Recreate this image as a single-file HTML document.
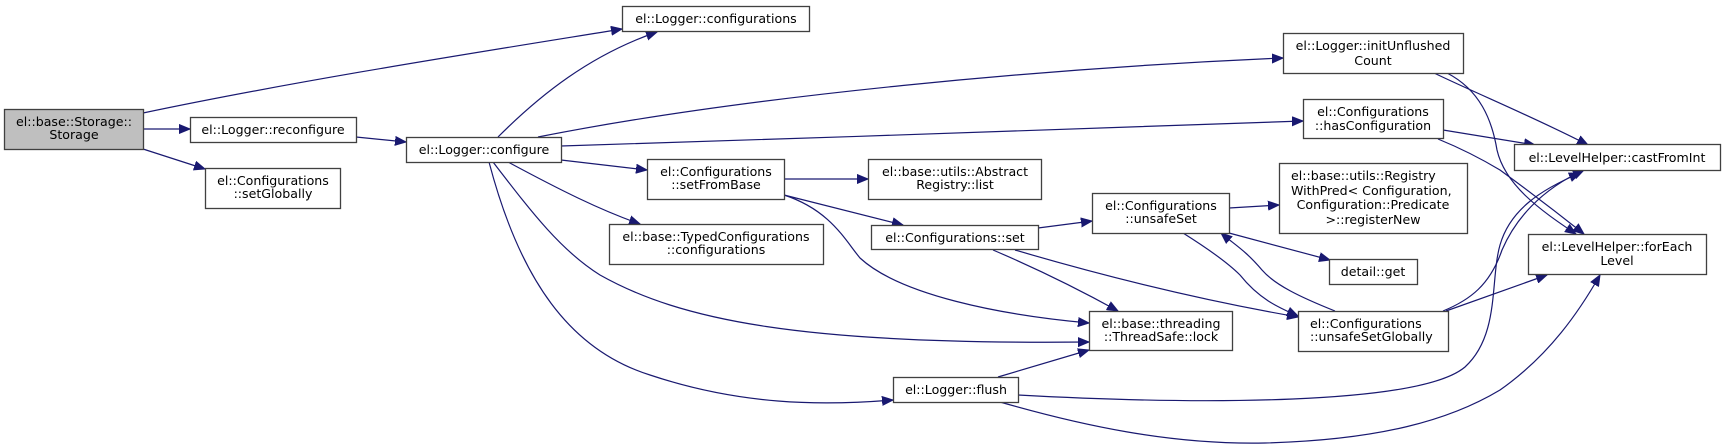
<!DOCTYPE html>
<html><head><meta charset="utf-8"><style>
html,body{margin:0;padding:0;background:#fff;}
svg{display:block;}
text{font-family:"DejaVu Sans","Liberation Sans",sans-serif;font-size:12.6px;fill:#000;}
.n{fill:#fff;stroke:#404040;stroke-width:1.3;}
.e{fill:none;stroke:#191970;stroke-width:1.2;}
</style></head><body>
<svg width="1725" height="448" viewBox="0 0 1725 448" xmlns="http://www.w3.org/2000/svg">
<defs>
<marker id="a" markerUnits="userSpaceOnUse" markerWidth="12" markerHeight="10" refX="11" refY="5" orient="auto">
<path d="M0,0.5 L11,5 L0,9.5 Z" fill="#191970" stroke="#191970"/>
</marker>
</defs>
<g class="edges">
<path class="e" marker-end="url(#a)" d="M143,113 C300,80 480,52 622,29"/>
<path class="e" marker-end="url(#a)" d="M143,129 L190,129"/>
<path class="e" marker-end="url(#a)" d="M143,149 L205,169"/>
<path class="e" marker-end="url(#a)" d="M356,137 L406,142"/>
<path class="e" marker-end="url(#a)" d="M498,137 C540,95 590,55 657,32"/>
<path class="e" marker-end="url(#a)" d="M538,137 C750,95 1050,68 1283,58"/>
<path class="e" marker-end="url(#a)" d="M561,146 C800,140 1100,126 1303,121"/>
<path class="e" marker-end="url(#a)" d="M561,160 L647,170"/>
<path class="e" marker-end="url(#a)" d="M508,162 C560,190 600,210 640,224"/>
<path class="e" marker-end="url(#a)" d="M493,162 C530,210 560,250 600,275 C680,320 800,345 1089,342"/>
<path class="e" marker-end="url(#a)" d="M489,162 C520,280 570,350 650,375 C740,405 820,406 893,400"/>
<path class="e" marker-end="url(#a)" d="M784,179 L868,179"/>
<path class="e" marker-end="url(#a)" d="M784,195 L903,225"/>
<path class="e" marker-end="url(#a)" d="M784,195 C830,210 845,240 860,258 C900,295 1000,315 1089,323"/>
<path class="e" marker-end="url(#a)" d="M1038,228 L1092,221"/>
<path class="e" marker-end="url(#a)" d="M993,250 C1040,270 1080,290 1118,311"/>
<path class="e" marker-end="url(#a)" d="M1015,250 C1100,275 1200,300 1298,317"/>
<path class="e" marker-end="url(#a)" d="M1229,208 L1279,205"/>
<path class="e" marker-end="url(#a)" d="M1229,233 L1330,260"/>
<path class="e" marker-end="url(#a)" d="M1183,233 C1210,250 1230,265 1240,275 C1260,300 1280,308 1298,316"/>
<path class="e" marker-end="url(#a)" d="M1335,311 C1300,297 1275,285 1262,270 C1245,250 1235,245 1221,233"/>
<path class="e" marker-end="url(#a)" d="M1443,311 C1470,300 1490,285 1502,250 C1515,220 1540,190 1584,170"/>
<path class="e" marker-end="url(#a)" d="M1446,311 L1547,275"/>
<path class="e" marker-end="url(#a)" d="M998,377 L1089,350"/>
<path class="e" marker-end="url(#a)" d="M1018,395 C1200,405 1420,405 1465,367 C1500,335 1490,280 1500,245 C1510,210 1540,190 1580,173"/>
<path class="e" marker-end="url(#a)" d="M1000,402 C1080,425 1170,445 1265,443 C1380,440 1450,420 1500,390 C1550,355 1580,310 1600,275"/>
<path class="e" marker-end="url(#a)" d="M1434,73 C1480,95 1540,120 1588,145"/>
<path class="e" marker-end="url(#a)" d="M1447,73 C1480,90 1492,120 1497,150 C1505,185 1540,210 1576,234"/>
<path class="e" marker-end="url(#a)" d="M1443,130 L1535,145"/>
<path class="e" marker-end="url(#a)" d="M1438,139 C1460,148 1480,158 1500,170 C1530,192 1560,215 1584,234"/>
</g>
<g class="nodes">
<rect x="4.5" y="109.5" width="139" height="40" fill="#bfbfbf" stroke="#404040" stroke-width="1.3"/>
<text x="74" y="126" text-anchor="middle">el::base::Storage::</text>
<text x="74" y="139" text-anchor="middle">Storage</text>

<rect class="n" x="190.5" y="117.5" width="166" height="25"/>
<text x="273" y="134" text-anchor="middle">el::Logger::reconfigure</text>

<rect class="n" x="205.5" y="168.5" width="135" height="40"/>
<text x="273" y="185" text-anchor="middle">el::Configurations</text>
<text x="273" y="198" text-anchor="middle">::setGlobally</text>

<rect class="n" x="406.5" y="137.5" width="155" height="25"/>
<text x="484" y="154" text-anchor="middle">el::Logger::configure</text>

<rect class="n" x="622.5" y="6.5" width="187" height="25"/>
<text x="716" y="23" text-anchor="middle">el::Logger::configurations</text>

<rect class="n" x="647.5" y="159.5" width="137" height="40"/>
<text x="716" y="176" text-anchor="middle">el::Configurations</text>
<text x="716" y="189" text-anchor="middle">::setFromBase</text>

<rect class="n" x="609.5" y="224.5" width="214" height="40"/>
<text x="716" y="241" text-anchor="middle">el::base::TypedConfigurations</text>
<text x="716" y="254" text-anchor="middle">::configurations</text>

<rect class="n" x="868.5" y="159.5" width="173" height="40"/>
<text x="955" y="176" text-anchor="middle">el::base::utils::Abstract</text>
<text x="955" y="189" text-anchor="middle">Registry::list</text>

<rect class="n" x="871.5" y="225.5" width="167" height="24"/>
<text x="955" y="242" text-anchor="middle">el::Configurations::set</text>

<rect class="n" x="893.5" y="377.5" width="125" height="25"/>
<text x="956" y="394" text-anchor="middle">el::Logger::flush</text>

<rect class="n" x="1089.5" y="311.5" width="143" height="39"/>
<text x="1161" y="328" text-anchor="middle">el::base::threading</text>
<text x="1161" y="341" text-anchor="middle">::ThreadSafe::lock</text>

<rect class="n" x="1092.5" y="193.5" width="137" height="40"/>
<text x="1161" y="210" text-anchor="middle">el::Configurations</text>
<text x="1161" y="223" text-anchor="middle">::unsafeSet</text>

<rect class="n" x="1298.5" y="311.5" width="150" height="40"/>
<text x="1310" y="328">el::Configurations</text>
<text x="1310" y="341">::unsafeSetGlobally</text>

<rect class="n" x="1329.5" y="259.5" width="88" height="25"/>
<text x="1373" y="276" text-anchor="middle">detail::get</text>

<rect class="n" x="1279.5" y="163.5" width="188" height="70"/>
<text x="1291" y="180">el::base::utils::Registry</text>
<text x="1291" y="195">WithPred&lt; Configuration,</text>
<text x="1373" y="209" text-anchor="middle">Configuration::Predicate</text>
<text x="1373" y="224" text-anchor="middle">&gt;::registerNew</text>

<rect class="n" x="1283.5" y="33.5" width="180" height="40"/>
<text x="1373" y="50" text-anchor="middle">el::Logger::initUnflushed</text>
<text x="1373" y="65" text-anchor="middle">Count</text>

<rect class="n" x="1303.5" y="99.5" width="140" height="39"/>
<text x="1373" y="116" text-anchor="middle">el::Configurations</text>
<text x="1373" y="130" text-anchor="middle">::hasConfiguration</text>

<rect class="n" x="1514.5" y="144.5" width="206" height="26"/>
<text x="1617" y="162" text-anchor="middle">el::LevelHelper::castFromInt</text>

<rect class="n" x="1528.5" y="234.5" width="178" height="40"/>
<text x="1617" y="251" text-anchor="middle">el::LevelHelper::forEach</text>
<text x="1617" y="265" text-anchor="middle">Level</text>
</g>
</svg>
</body></html>
